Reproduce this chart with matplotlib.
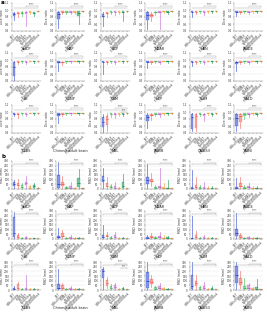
import matplotlib
matplotlib.use("Agg")
import matplotlib.pyplot as plt

# methods compared in every panel
methods = ["BET", "3dSkullStrip", "ROBEX", "HD-BET", "SynthStrip", "DeepBrainNet", "Proposed method"]
colors = ["#3550d8", "#f26a5e", "#46c05a", "#c46ad6", "#f5a23c", "#1f9a58", "#c98f3e"]

datasets = ["dHCP", "MAP", "BCP", "NDAR", "HBN", "ABIDE",
            "IXI", "CCNP", "CBM", "HCP", "SLIM", "SALD",
            "DLBS", "Chinese adult brain", "MBL", "ABVIB", "OASIS3", "ADNI"]

# ---- a: Dice ratio (box stats) ----
dice_lo = [
    [0.72, 0.80, 0.84, 0.55, 0.88, 0.82, 0.93],
    [0.50, 0.88, 0.90, 0.88, 0.90, 0.60, 0.93],
    [0.55, 0.80, 0.88, 0.85, 0.90, 0.70, 0.94],
    [0.45, 0.70, 0.85, 0.45, 0.92, 0.90, 0.94],
    [0.80, 0.90, 0.92, 0.85, 0.92, 0.92, 0.94],
    [0.82, 0.90, 0.92, 0.90, 0.92, 0.92, 0.94],
    [0.40, 0.88, 0.92, 0.90, 0.93, 0.92, 0.94],
    [0.70, 0.85, 0.92, 0.92, 0.93, 0.92, 0.94],
    [0.60, 0.90, 0.92, 0.90, 0.93, 0.92, 0.94],
    [0.78, 0.90, 0.92, 0.88, 0.93, 0.92, 0.94],
    [0.82, 0.90, 0.92, 0.90, 0.93, 0.92, 0.94],
    [0.68, 0.88, 0.92, 0.90, 0.93, 0.92, 0.94],
    [0.88, 0.82, 0.92, 0.90, 0.93, 0.92, 0.94],
    [0.70, 0.88, 0.92, 0.91, 0.93, 0.92, 0.94],
    [0.42, 0.45, 0.85, 0.82, 0.90, 0.90, 0.93],
    [0.55, 0.78, 0.90, 0.85, 0.92, 0.92, 0.94],
    [0.45, 0.45, 0.88, 0.75, 0.92, 0.90, 0.94],
    [0.45, 0.55, 0.80, 0.85, 0.92, 0.90, 0.93],
]
dice_q1 = [
    [0.84, 0.88, 0.90, 0.90, 0.93, 0.89, 0.95],
    [0.75, 0.93, 0.94, 0.93, 0.94, 0.84, 0.96],
    [0.80, 0.88, 0.94, 0.94, 0.94, 0.92, 0.96],
    [0.72, 0.80, 0.91, 0.92, 0.95, 0.94, 0.96],
    [0.94, 0.94, 0.95, 0.94, 0.95, 0.95, 0.96],
    [0.94, 0.94, 0.95, 0.94, 0.95, 0.95, 0.96],
    [0.55, 0.93, 0.95, 0.94, 0.95, 0.95, 0.96],
    [0.92, 0.92, 0.95, 0.95, 0.95, 0.95, 0.96],
    [0.93, 0.94, 0.95, 0.94, 0.95, 0.95, 0.96],
    [0.93, 0.94, 0.95, 0.93, 0.95, 0.95, 0.96],
    [0.94, 0.94, 0.95, 0.94, 0.95, 0.95, 0.96],
    [0.88, 0.93, 0.95, 0.94, 0.95, 0.95, 0.96],
    [0.94, 0.92, 0.95, 0.94, 0.95, 0.95, 0.96],
    [0.88, 0.93, 0.95, 0.95, 0.95, 0.95, 0.96],
    [0.58, 0.62, 0.93, 0.92, 0.94, 0.94, 0.96],
    [0.75, 0.88, 0.94, 0.92, 0.95, 0.95, 0.96],
    [0.52, 0.55, 0.94, 0.88, 0.95, 0.94, 0.96],
    [0.60, 0.72, 0.88, 0.93, 0.95, 0.94, 0.96],
]
dice_med = [
    [0.88, 0.91, 0.92, 0.93, 0.95, 0.91, 0.96],
    [0.88, 0.95, 0.95, 0.95, 0.95, 0.92, 0.97],
    [0.84, 0.91, 0.95, 0.95, 0.95, 0.94, 0.97],
    [0.85, 0.86, 0.94, 0.94, 0.96, 0.95, 0.97],
    [0.95, 0.95, 0.96, 0.95, 0.96, 0.96, 0.97],
    [0.95, 0.95, 0.96, 0.95, 0.96, 0.96, 0.97],
    [0.80, 0.95, 0.96, 0.95, 0.96, 0.96, 0.97],
    [0.95, 0.93, 0.96, 0.96, 0.96, 0.96, 0.97],
    [0.95, 0.95, 0.96, 0.95, 0.96, 0.96, 0.97],
    [0.95, 0.95, 0.96, 0.95, 0.96, 0.96, 0.97],
    [0.95, 0.95, 0.96, 0.95, 0.96, 0.96, 0.97],
    [0.93, 0.95, 0.96, 0.95, 0.96, 0.96, 0.97],
    [0.95, 0.94, 0.96, 0.95, 0.96, 0.96, 0.97],
    [0.94, 0.94, 0.96, 0.96, 0.96, 0.96, 0.97],
    [0.72, 0.80, 0.95, 0.94, 0.95, 0.95, 0.97],
    [0.85, 0.91, 0.95, 0.94, 0.96, 0.96, 0.97],
    [0.85, 0.90, 0.95, 0.93, 0.96, 0.95, 0.97],
    [0.82, 0.88, 0.93, 0.95, 0.96, 0.95, 0.97],
]
dice_q3 = [
    [0.92, 0.93, 0.94, 0.94, 0.96, 0.93, 0.97],
    [0.95, 0.96, 0.96, 0.96, 0.96, 0.96, 0.98],
    [0.88, 0.93, 0.96, 0.96, 0.96, 0.96, 0.98],
    [0.93, 0.90, 0.95, 0.96, 0.97, 0.96, 0.98],
    [0.96, 0.96, 0.97, 0.96, 0.97, 0.97, 0.98],
    [0.96, 0.96, 0.97, 0.96, 0.97, 0.97, 0.98],
    [0.93, 0.96, 0.97, 0.96, 0.97, 0.97, 0.98],
    [0.96, 0.95, 0.97, 0.97, 0.97, 0.97, 0.98],
    [0.96, 0.96, 0.97, 0.96, 0.97, 0.97, 0.98],
    [0.96, 0.96, 0.97, 0.96, 0.97, 0.97, 0.98],
    [0.96, 0.96, 0.97, 0.96, 0.97, 0.97, 0.98],
    [0.95, 0.96, 0.97, 0.96, 0.97, 0.97, 0.98],
    [0.96, 0.96, 0.97, 0.96, 0.97, 0.97, 0.98],
    [0.96, 0.96, 0.97, 0.97, 0.97, 0.97, 0.98],
    [0.86, 0.90, 0.96, 0.96, 0.96, 0.96, 0.98],
    [0.92, 0.94, 0.96, 0.96, 0.97, 0.97, 0.98],
    [0.95, 0.95, 0.96, 0.95, 0.97, 0.96, 0.98],
    [0.93, 0.95, 0.96, 0.96, 0.97, 0.96, 0.98],
]
dice_hi = [
    [0.95, 0.95, 0.96, 0.96, 0.97, 0.95, 0.98],
    [0.97, 0.97, 0.97, 0.97, 0.97, 0.97, 0.98],
    [0.94, 0.95, 0.97, 0.97, 0.97, 0.97, 0.98],
    [0.96, 0.94, 0.97, 0.97, 0.97, 0.97, 0.98],
    [0.97, 0.97, 0.97, 0.97, 0.97, 0.97, 0.98],
    [0.97, 0.97, 0.97, 0.97, 0.97, 0.97, 0.98],
    [0.97, 0.97, 0.97, 0.97, 0.97, 0.97, 0.98],
    [0.97, 0.97, 0.97, 0.97, 0.97, 0.97, 0.98],
    [0.97, 0.97, 0.97, 0.97, 0.97, 0.97, 0.98],
    [0.97, 0.97, 0.97, 0.97, 0.97, 0.97, 0.98],
    [0.97, 0.97, 0.97, 0.97, 0.97, 0.97, 0.98],
    [0.97, 0.97, 0.97, 0.97, 0.97, 0.97, 0.98],
    [0.97, 0.97, 0.97, 0.97, 0.97, 0.97, 0.98],
    [0.97, 0.97, 0.97, 0.97, 0.97, 0.97, 0.98],
    [0.95, 0.96, 0.97, 0.97, 0.97, 0.97, 0.98],
    [0.96, 0.96, 0.97, 0.97, 0.97, 0.97, 0.98],
    [0.97, 0.97, 0.97, 0.97, 0.97, 0.97, 0.98],
    [0.96, 0.97, 0.97, 0.97, 0.97, 0.97, 0.98],
]

# ---- b: MSD (mm) ----
msd_lo = [
    [5, 5, 2, 10, 1, 3, 1],
    [5, 5, 1, 1, 1, 2, 1],
    [15, 5, 2, 1, 1, 2, 1],
    [10, 30, 2, 2, 1, 1, 1],
    [1, 3, 1, 2, 1, 1, 1],
    [1, 5, 1, 2, 1, 1, 1],
    [5, 2, 1, 1, 1, 1, 1],
    [2, 5, 1, 2, 1, 1, 1],
    [2, 5, 1, 2, 1, 1, 1],
    [1, 3, 1, 2, 1, 1, 1],
    [1, 3, 1, 1, 1, 1, 1],
    [5, 3, 1, 1, 1, 1, 1],
    [1, 3, 1, 2, 1, 1, 1],
    [2, 3, 1, 1, 1, 1, 1],
    [15, 20, 3, 5, 1, 2, 1],
    [5, 30, 2, 3, 1, 1, 1],
    [5, 10, 2, 2, 1, 1, 1],
    [10, 20, 2, 3, 1, 1, 1],
]
msd_q1 = [
    [30, 30, 12, 40, 5, 15, 5],
    [15, 30, 5, 6, 4, 20, 3],
    [75, 20, 10, 6, 3, 12, 3],
    [55, 70, 8, 10, 4, 5, 3],
    [5, 12, 5, 8, 4, 4, 3],
    [5, 20, 5, 10, 4, 4, 3],
    [25, 10, 4, 5, 3, 3, 3],
    [10, 20, 4, 6, 4, 4, 3],
    [10, 18, 5, 10, 4, 4, 3],
    [5, 10, 5, 10, 4, 5, 3],
    [3, 10, 4, 6, 3, 4, 3],
    [30, 10, 4, 5, 3, 4, 3],
    [5, 10, 4, 8, 4, 4, 3],
    [10, 10, 4, 6, 3, 4, 3],
    [130, 45, 10, 15, 5, 6, 3],
    [20, 60, 8, 10, 4, 4, 3],
    [15, 40, 8, 10, 4, 5, 3],
    [80, 50, 10, 12, 5, 6, 3],
]
msd_med = [
    [50, 45, 25, 60, 15, 30, 8],
    [50, 50, 10, 15, 8, 60, 6],
    [100, 35, 18, 15, 6, 35, 5],
    [100, 90, 15, 20, 10, 10, 5],
    [10, 25, 10, 15, 8, 8, 5],
    [10, 35, 10, 18, 8, 8, 5],
    [60, 20, 8, 10, 6, 6, 5],
    [20, 35, 8, 12, 7, 7, 5],
    [20, 30, 10, 20, 8, 8, 5],
    [10, 20, 10, 20, 8, 10, 5],
    [6, 20, 8, 12, 6, 8, 5],
    [60, 20, 8, 10, 6, 7, 5],
    [10, 25, 8, 15, 7, 8, 5],
    [25, 25, 8, 12, 6, 7, 5],
    [200, 75, 20, 30, 10, 12, 6],
    [100, 90, 15, 20, 8, 8, 5],
    [40, 70, 15, 20, 7, 10, 5],
    [160, 90, 20, 25, 10, 12, 6],
]
msd_q3 = [
    [70, 60, 40, 80, 30, 45, 15],
    [145, 75, 20, 30, 15, 120, 10],
    [140, 60, 30, 30, 12, 70, 8],
    [130, 110, 25, 30, 20, 15, 10],
    [20, 40, 20, 25, 15, 15, 8],
    [20, 60, 20, 30, 15, 15, 8],
    [240, 40, 15, 20, 10, 10, 8],
    [30, 60, 15, 25, 10, 12, 8],
    [40, 40, 20, 40, 15, 15, 8],
    [20, 30, 20, 30, 15, 20, 8],
    [10, 40, 15, 20, 10, 15, 8],
    [110, 40, 15, 20, 10, 12, 8],
    [20, 60, 15, 20, 12, 15, 8],
    [60, 50, 15, 25, 10, 12, 8],
    [230, 110, 40, 50, 15, 20, 10],
    [190, 120, 30, 40, 20, 10, 10],
    [160, 100, 30, 40, 10, 20, 10],
    [260, 130, 40, 50, 20, 30, 10],
]
msd_hi = [
    [95, 110, 60, 140, 45, 60, 20],
    [290, 140, 35, 70, 25, 210, 15],
    [220, 130, 50, 70, 20, 160, 12],
    [270, 170, 40, 230, 60, 100, 15],
    [200, 130, 40, 70, 30, 30, 12],
    [120, 130, 40, 60, 30, 30, 12],
    [290, 60, 25, 35, 15, 15, 10],
    [120, 100, 25, 45, 20, 20, 10],
    [150, 70, 30, 80, 25, 25, 10],
    [40, 60, 30, 70, 40, 35, 10],
    [250, 90, 25, 40, 20, 25, 10],
    [280, 60, 25, 35, 20, 20, 10],
    [40, 90, 25, 160, 20, 25, 10],
    [220, 80, 25, 45, 20, 20, 10],
    [250, 140, 60, 70, 25, 35, 15],
    [300, 160, 40, 70, 30, 20, 15],
    [300, 160, 40, 90, 20, 40, 15],
    [300, 200, 130, 80, 35, 120, 15],
]

W, H = 267, 312
fig = plt.figure(figsize=(W / 100, H / 100), dpi=100)

col_left = [11.5, 56, 100.5, 145, 189.5, 234]
rows_a = [3, 53, 105]
rows_b = [161, 211, 262]
ax_w, ax_h = 29, 28
title_gap = 46


def make_ax(left, top):
    return fig.add_axes([left / W, 1 - (top + ax_h) / H, ax_w / W, ax_h / H])


def draw_panel(ax, lo, q1, med, q3, hi, ylim, yticks, ylabel, ytl, top_y, extra):
    stats = []
    for i in range(len(methods)):
        stats.append(dict(whislo=lo[i], q1=q1[i], med=med[i], q3=q3[i], whishi=hi[i], fliers=[]))
    bp = ax.bxp(stats, widths=0.68, patch_artist=True, showfliers=False, showcaps=False)
    for i, c in enumerate(colors):
        bp["boxes"][i].set(facecolor=c, edgecolor=c, alpha=0.6, linewidth=0.3)
        bp["medians"][i].set(color=c, linewidth=0.7)
        for w in bp["whiskers"][2 * i:2 * i + 2]:
            w.set(color=c, linewidth=0.6, alpha=0.7)
    ax.set_ylim(*ylim)
    ax.set_yticks(yticks)
    ax.set_yticklabels(ytl)
    ax.set_xlim(0.4, 7.6)
    ax.set_xticks(range(1, 8))
    ax.set_xticklabels(methods, rotation=45, ha="right", rotation_mode="anchor")
    ax.tick_params(axis="both", labelsize=2.0, length=1, width=0.3, pad=0.6, colors="#444444")
    ax.set_ylabel(ylabel, fontsize=2.2, labelpad=0.5, color="#333333")
    ax.grid(axis="y", color="#e6e6e6", linewidth=0.3)
    ax.set_axisbelow(True)
    for s in ["top", "right"]:
        ax.spines[s].set_visible(False)
    for s in ["left", "bottom"]:
        ax.spines[s].set_linewidth(0.3)
        ax.spines[s].set_color("#888888")
    span = ylim[1] - ylim[0]
    y1, y2 = top_y, top_y + 0.05 * span
    tk = 0.025 * span
    ax.plot([1, 1, 7, 7], [y1 - tk, y1, y1, y1 - tk], color="#aaaaaa", lw=0.35, clip_on=False)
    ax.plot([4, 4, 7, 7], [y2 - tk, y2, y2, y2 - tk], color="#aaaaaa", lw=0.35, clip_on=False)
    ax.text(5.5, y2 + 0.005 * span, "****", fontsize=2.0, ha="center", va="bottom", color="#555555")
    if extra:
        y3 = top_y - 0.1 * span
        ax.plot([5.5, 5.5, 7, 7], [y3 - tk, y3, y3, y3 - tk], color="#aaaaaa", lw=0.35, clip_on=False)
        ax.text(6.25, y3 + 0.005 * span, "***", fontsize=2.0, ha="center", va="bottom", color="#555555")


for k, name in enumerate(datasets):
    r, c = divmod(k, 6)
    ax = make_ax(col_left[c], rows_a[r])
    draw_panel(ax, dice_lo[k], dice_q1[k], dice_med[k], dice_q3[k], dice_hi[k],
               (0.4, 1.2), [0.4, 0.6, 0.8, 1.0, 1.2], "Dice ratio",
               ["0.4", "0.6", "0.8", "1.0", "1.2"], 1.07, name == "MBL")
    fig.text((col_left[c] + ax_w / 2) / W, 1 - (rows_a[r] + title_gap) / H, name,
             fontsize=2.5, ha="center", va="center", color="#222222")

    ax = make_ax(col_left[c], rows_b[r])
    draw_panel(ax, msd_lo[k], msd_q1[k], msd_med[k], msd_q3[k], msd_hi[k],
               (0, 300), [0, 50, 100, 150, 200, 250, 300], "MSD (mm)",
               ["0", "50", "100", "150", "200", "250", "300"], 265, name == "MBL")
    fig.text((col_left[c] + ax_w / 2) / W, 1 - (rows_b[r] + title_gap) / H, name,
             fontsize=2.5, ha="center", va="center", color="#222222")

fig.text(1 / W, 1 - 3 / H, "a", fontsize=4, fontweight="bold", va="center")
fig.text(1 / W, 1 - 156 / H, "b", fontsize=4, fontweight="bold", va="center")

fig.savefig("out.png", dpi=100)
